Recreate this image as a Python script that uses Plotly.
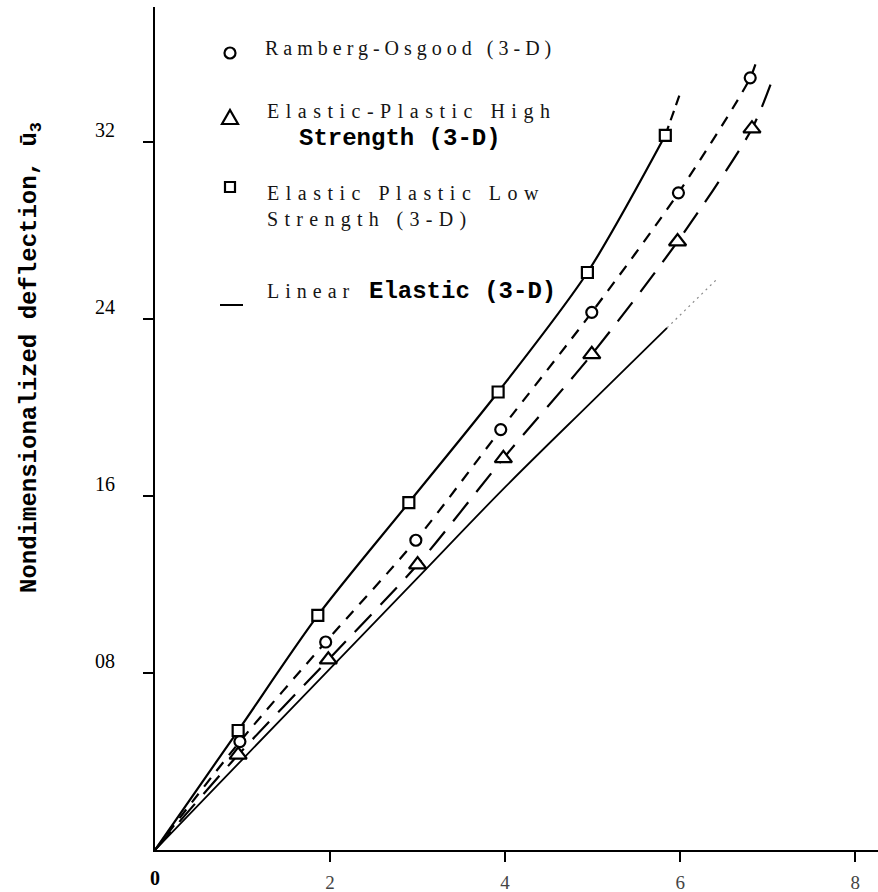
import plotly.graph_objects as go

# ---------------- data ----------------
# Ramberg-Osgood (3-D)  -- open circles, short-dashed curve
RO_X = [0.97, 1.95, 2.98, 3.95, 4.99, 5.98, 6.80]
RO_Y = [4.9, 9.4, 14.0, 19.0, 24.3, 29.7, 34.9]
RO_CURVE_X = [0.0, 0.97, 1.95, 2.98, 3.95, 4.99, 5.98, 6.80, 6.89]
RO_CURVE_Y = [0.0, 4.9, 9.4, 14.0, 19.0, 24.3, 29.7, 34.9, 35.9]

# Elastic-Plastic High Strength (3-D) -- open triangles, long-dashed curve
HI_X = [0.95, 1.98, 3.00, 3.98, 4.99, 5.97, 6.82]
HI_Y = [4.3, 8.6, 12.9, 17.7, 22.4, 27.5, 32.6]
HI_CURVE_X = [0.0, 0.95, 1.98, 3.00, 3.98, 4.99, 5.97, 6.82, 7.07]
HI_CURVE_Y = [0.0, 4.3, 8.6, 12.9, 17.7, 22.4, 27.5, 32.6, 35.0]

# Elastic Plastic Low Strength (3-D) -- open squares, solid curve
LO_X = [0.95, 1.86, 2.90, 3.92, 4.94, 5.83]
LO_Y = [5.4, 10.6, 15.7, 20.7, 26.1, 32.3]
LO_CURVE_X = [0.0, 0.95, 1.86, 2.90, 3.92, 4.94, 5.83]
LO_CURVE_Y = [0.0, 5.4, 10.6, 15.7, 20.7, 26.1, 32.3]
LO_EXT_X = [5.83, 6.00]
LO_EXT_Y = [32.3, 34.2]

# Linear Elastic (3-D) -- thin solid line (fades out near its top)
LIN_X = [0.0, 1.0, 2.0, 3.0, 4.0, 5.0, 5.85]
LIN_Y = [0.0, 4.1, 8.2, 12.3, 16.4, 20.3, 23.6]
LIN_EXT_X = [5.85, 6.42]
LIN_EXT_Y = [23.6, 25.8]

X_TICKS = [2, 4, 6, 8]
X_TICK_TEXT = ["2", "4", "6", "8"]
Y_TICKS = [8, 16, 24, 32]
Y_TICK_TEXT = ["08", "16", "24", "32"]
X_RANGE = [0, 8.26]
Y_RANGE = [0, 38.1]

LEG_LABELS = ["Ramberg-Osgood (3-D)",
              "Elastic-Plastic High", "Strength (3-D)",
              "Elastic Plastic Low", "Strength (3-D)",
              "Linear", "Elastic (3-D)"]
Y_TITLE = "Nondimensionalized deflection, ū<sub>3</sub>"

# ---------------- layout geometry ----------------
W, H = 878, 892
ML, MR, MT, MB = 155, 0, 7, 42
PW, PH = W - ML - MR, H - MT - MB


def px(p):
    return (p - ML) / PW


def py(p):
    return (H - MB - p) / PH


SERIF = "Liberation Serif"
MONO = "Liberation Mono"


def spaced(t, ls):
    return '<span style="letter-spacing:%.1fpx">%s</span>' % (ls, t)


fig = go.Figure()

LW = 2.2
# curves
fig.add_trace(go.Scatter(x=LIN_X, y=LIN_Y, mode="lines",
                         line=dict(color="black", width=1.8, shape="spline"),
                         showlegend=False, hoverinfo="skip"))
fig.add_trace(go.Scatter(x=LIN_EXT_X, y=LIN_EXT_Y, mode="lines",
                         line=dict(color="#8a8a8a", width=1.2, dash="2px,4px"),
                         showlegend=False, hoverinfo="skip"))
fig.add_trace(go.Scatter(x=LO_CURVE_X, y=LO_CURVE_Y, mode="lines",
                         line=dict(color="black", width=LW, shape="spline", smoothing=0.8),
                         showlegend=False, hoverinfo="skip"))
fig.add_trace(go.Scatter(x=LO_EXT_X, y=LO_EXT_Y, mode="lines",
                         line=dict(color="black", width=LW, dash="10px,6px"),
                         showlegend=False, hoverinfo="skip"))
fig.add_trace(go.Scatter(x=RO_CURVE_X, y=RO_CURVE_Y, mode="lines",
                         line=dict(color="black", width=LW, shape="spline", smoothing=0.8,
                                   dash="11px,9px"),
                         showlegend=False, hoverinfo="skip"))
fig.add_trace(go.Scatter(x=HI_CURVE_X, y=HI_CURVE_Y, mode="lines",
                         line=dict(color="black", width=LW, shape="spline", smoothing=0.8,
                                   dash="24px,13px"),
                         showlegend=False, hoverinfo="skip"))

# markers
MK_LINE = dict(color="black", width=2.2)
fig.add_trace(go.Scatter(x=LO_X, y=LO_Y, mode="markers",
                         marker=dict(symbol="square", size=11, color="white", line=MK_LINE),
                         showlegend=False))
fig.add_trace(go.Scatter(x=RO_X, y=RO_Y, mode="markers",
                         marker=dict(symbol="circle", size=11, color="white", line=MK_LINE),
                         showlegend=False))
fig.add_trace(go.Scatter(x=HI_X, y=HI_Y, mode="markers",
                         marker=dict(symbol="triangle-up", size=15, color="white", line=MK_LINE),
                         showlegend=False))

# ---------------- hand-drawn legend keys (page-pixel positions) ----------------
shapes = []
SH_LINE = dict(color="black", width=2.2)
# circle key
cx, cy, r = 230, 53, 5.5
shapes.append(dict(type="circle", xref="paper", yref="paper",
                   x0=px(cx - r), x1=px(cx + r), y0=py(cy + r), y1=py(cy - r),
                   line=SH_LINE, fillcolor="white"))
# triangle key
tx, ty, tw, th = 230, 117, 8, 7
shapes.append(dict(type="path", xref="paper", yref="paper",
                   path="M %f,%f L %f,%f L %f,%f Z" % (px(tx - tw), py(ty + th),
                                                       px(tx + tw), py(ty + th),
                                                       px(tx), py(ty - th)),
                   line=SH_LINE, fillcolor="white"))
# square key
sx, sy, s = 230, 187, 5
shapes.append(dict(type="rect", xref="paper", yref="paper",
                   x0=px(sx - s), x1=px(sx + s), y0=py(sy + s), y1=py(sy - s),
                   line=SH_LINE, fillcolor="white"))
# line key
shapes.append(dict(type="line", xref="paper", yref="paper",
                   x0=px(220), x1=px(243), y0=py(305), y1=py(305),
                   line=dict(color="black", width=2)))

ann = []
leg_pos = [(263, 49, SERIF, 5.0), (265, 111, SERIF, 6.5), (297, 138, MONO, 0),
           (265, 193, SERIF, 6.5), (265, 220, SERIF, 6.3), (265, 291, SERIF, 6.0),
           (367, 291, MONO, 0)]
for (x0, y0, fam, ls), lab in zip(leg_pos, LEG_LABELS):
    if fam == SERIF:
        txt = spaced(lab, ls)
        font = dict(family=SERIF, size=20, color="#151515")
    else:
        txt = "<b>%s</b>" % lab
        font = dict(family=MONO, size=24, color="black")
    ann.append(dict(x=px(x0), y=py(y0), xref="paper", yref="paper", text=txt,
                    showarrow=False, xanchor="left", yanchor="middle", font=font))

# y-axis title
ann.append(dict(x=px(31), y=py(358), xref="paper", yref="paper",
                text="<b>%s</b>" % Y_TITLE, textangle=-90, showarrow=False,
                xanchor="center", yanchor="middle",
                font=dict(family=MONO, size=24, color="black")))
# origin label
ann.append(dict(x=0, y=0, xref="x", yref="y", text="<b>0</b>", showarrow=False,
                xanchor="center", yanchor="middle", yshift=-28,
                font=dict(family=SERIF, size=20, color="black")))

fig.update_layout(
    width=W, height=H,
    margin=dict(l=ML, r=MR, t=MT, b=MB, pad=0),
    paper_bgcolor="white", plot_bgcolor="white",
    showlegend=False,
    annotations=ann,
    shapes=shapes,
    xaxis=dict(range=X_RANGE, showgrid=False, zeroline=False, showline=True,
               linecolor="black", linewidth=2, ticks="outside", ticklen=10, tickwidth=2,
               tickcolor="black", tickvals=X_TICKS, ticktext=X_TICK_TEXT,
               ticklabelstandoff=4,
               tickfont=dict(family=SERIF, size=19, color="#444444")),
    yaxis=dict(range=Y_RANGE, showgrid=False, zeroline=False, showline=True,
               linecolor="black", linewidth=2, ticks="outside", ticklen=10, tickwidth=1.5,
               tickcolor="black", tickvals=Y_TICKS, ticktext=Y_TICK_TEXT,
               ticklabelstandoff=24, ticklabelshift=-12,
               tickfont=dict(family=SERIF, size=20, color="black")),
)

fig.write_html("out.html")
